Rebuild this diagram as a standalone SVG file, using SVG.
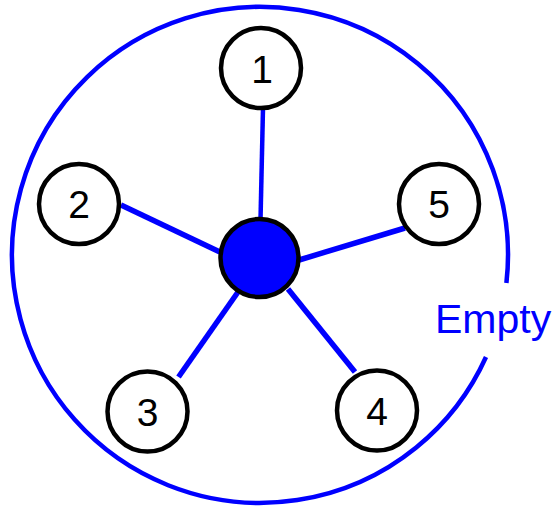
<svg xmlns="http://www.w3.org/2000/svg" width="557" height="508" viewBox="0 0 557 508">
<style>
.node circle{fill:#fff;stroke:#000;stroke-width:4.5}
.node text{font-family:"Liberation Sans",Arial,sans-serif;font-size:39px;fill:#000;text-anchor:middle}
.edge{stroke:#0000ff;stroke-width:5.5;stroke-linecap:butt;fill:none}
</style>
<rect width="557" height="508" fill="#fff"/>
<g id="boundary">
<path d="M 506.4 283 A 248 248 0 1 0 486 357" fill="none" stroke="#0000ff" stroke-width="4.5"/>
<text x="435" y="333" font-family="Liberation Sans,Arial,sans-serif" font-size="41" fill="#0000ff">Empty</text>
</g>
<g id="connectors">
<line class="edge" x1="263" y1="108" x2="260.5" y2="220" style="stroke-width:4.5"/>
<line class="edge" x1="121" y1="205" x2="222" y2="253"/>
<line class="edge" x1="178.5" y1="377" x2="238" y2="292"/>
<line class="edge" x1="288" y1="289" x2="355" y2="372"/>
<line class="edge" x1="299" y1="260" x2="405" y2="228"/>
</g>
<g id="hub" class="node"><circle cx="259.5" cy="258" r="39" style="fill:#0000ff"/></g>
<g id="n1" class="node"><circle cx="261" cy="68" r="40"/><text x="262" y="83">1</text></g>
<g id="n2" class="node"><circle cx="79" cy="204" r="40"/><text x="79" y="218">2</text></g>
<g id="n3" class="node"><circle cx="147.5" cy="411.5" r="40"/><text x="147.5" y="425.5">3</text></g>
<g id="n4" class="node"><circle cx="377" cy="410.5" r="40"/><text x="377" y="424.5">4</text></g>
<g id="n5" class="node"><circle cx="439" cy="204" r="40"/><text x="439" y="218">5</text></g>
</svg>
